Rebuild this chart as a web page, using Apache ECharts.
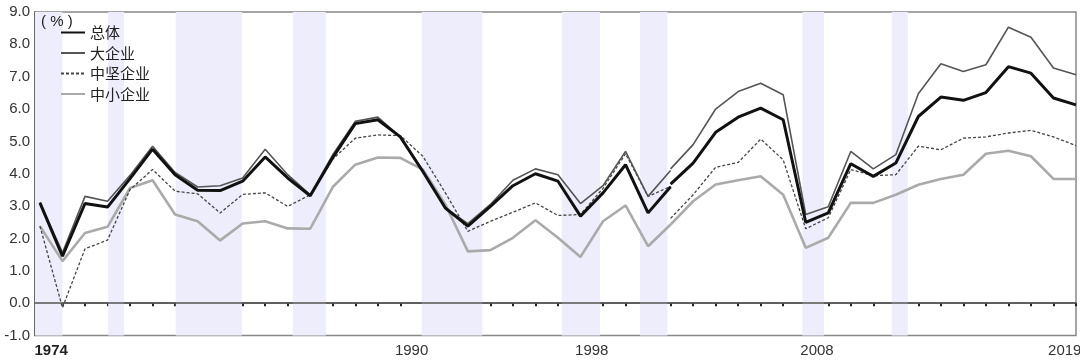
<!DOCTYPE html>
<html><head><meta charset="utf-8">
<script src="https://cdn.jsdelivr.net/npm/echarts@6/dist/echarts.min.js"></script>
<style>html,body{margin:0;padding:0;background:#fff}#c{width:1080px;height:361px}</style>
</head><body><div id="c"></div>
<script>
// Year boundaries where points are plotted (47 points; series break at 2002)
const tickYears = [1974,1975,1976,1977,1978,1979,1980,1981,1982,1983,1984,1985,1986,1987,1988,1989,1990,1991,1992,1993,1994,1995,1996,1997,1998,1999,2000,2001,2002,2003,2004,2005,2006,2007,2008,2009,2010,2011,2012,2013,2014,2015,2016,2017,2018,2019,2020];
const yearsOld = tickYears.slice(0, 29);   // 1974..2002
const yearsNew = tickYears.slice(28);      // 2002..2020
const tickLabels = ['1974','1990','1998','2008','2019'];

// 总体
const totalOld = [3.10,1.45,3.08,2.97,3.85,4.76,3.97,3.49,3.48,3.77,4.52,3.87,3.32,4.50,5.55,5.67,5.14,4.07,2.94,2.38,2.99,3.63,4.00,3.77,2.69,3.41,4.28,2.79,3.60];
const totalNew = [3.68,4.33,5.28,5.75,6.03,5.67,2.50,2.79,4.31,3.92,4.33,5.77,6.37,6.27,6.51,7.31,7.11,6.34,6.13];
// 大企业
const largeOld = [3.12,1.56,3.30,3.15,3.95,4.85,4.04,3.59,3.63,3.87,4.76,3.97,3.35,4.59,5.62,5.75,5.14,4.10,2.94,2.46,3.05,3.80,4.15,3.97,3.08,3.63,4.69,3.30,4.10];
const largeNew = [4.15,4.90,6.00,6.54,6.80,6.44,2.74,2.98,4.69,4.15,4.59,6.47,7.40,7.16,7.37,8.53,8.22,7.27,7.06];
// 中坚企业
const midOld = [2.38,-0.14,1.68,1.95,3.51,4.13,3.46,3.38,2.79,3.36,3.41,2.99,3.35,4.45,5.10,5.20,5.18,4.54,3.41,2.22,2.53,2.81,3.10,2.71,2.74,3.55,4.62,3.30,3.61];
const midNew = [2.62,3.35,4.20,4.35,5.07,4.43,2.30,2.64,4.13,3.94,3.97,4.85,4.74,5.10,5.14,5.26,5.34,5.14,4.87];
// 中小企业
const smallOld = [2.38,1.30,2.17,2.36,3.56,3.80,2.74,2.53,1.94,2.46,2.53,2.31,2.30,3.59,4.28,4.50,4.49,4.13,3.05,1.60,1.64,2.02,2.56,2.02,1.43,2.53,3.02,1.76,2.43];
const smallNew = [2.43,3.15,3.67,3.80,3.92,3.35,1.71,2.02,3.10,3.10,3.35,3.66,3.84,3.97,4.62,4.71,4.54,3.84,3.84];

// Shaded periods (in year units)
const bands = [[1973.78,1975.0],[1977.03,1977.73],[1980.03,1982.96],[1985.22,1986.69],[1990.95,1993.64],[1997.17,1998.87],[2000.64,2001.86],[2007.85,2008.81],[2011.82,2012.53]];

const FONT = '"Liberation Sans", Arial, "Noto Sans CJK SC", sans-serif';
const CJK = '"Noto Sans CJK SC", sans-serif';
const zip = (xs, ys) => xs.map((x, i) => [x, ys[i]]);

const styles = {
  '总体':   {color:'#111111', width:3, type:'solid'},
  '大企业': {color:'#555555', width:1.6, type:'solid'},
  '中坚企业': {color:'#444444', width:1.3, type:[3,2]},
  '中小企业': {color:'#aaaaaa', width:2.6, type:'solid'}
};
function mk(name, xs, ys, z) {
  const s = styles[name];
  return {name, type:'line', data: zip(xs, ys), symbol:'none', showSymbol:false,
    lineStyle:{color:s.color, width:s.width, type:s.type}, itemStyle:{color:s.color},
    z, animation:false, silent:true};
}

const chart = echarts.init(document.getElementById('c'), null, {renderer:'canvas'});
chart.setOption({
  animation:false,
  backgroundColor:'#fff',
  title:{text:'( % )', left:41, top:14, padding:0, textStyle:{fontSize:15, fontWeight:'normal', color:'#222', fontFamily:FONT}},
  legend:{orient:'vertical', left:60, top:25, padding:0, itemWidth:24, itemHeight:14, itemGap:5.5,
    itemStyle:{opacity:0},
    textStyle:{fontSize:15, color:'#222', fontFamily:CJK},
    data:['总体','大企业','中坚企业','中小企业']},
  grid:{left:35, right:4, top:12, bottom:25.5, show:true, borderColor:'#888', borderWidth:1.5, containLabel:false, outerBoundsMode:'none'},
  xAxis:{type:'value', min:1973.78, max:2020,
    axisLine:{show:true, lineStyle:{color:'#555', width:1.5}},
    axisTick:{show:true, customValues:tickYears, length:3, lineStyle:{color:'#222', width:2}},
    axisLabel:{customValues: tickLabels.map(s => Number(s) + 0.5), margin:8, fontSize:15, color:'#333', fontFamily:FONT,
      formatter: v => { const s = String(Math.round(v - 0.5)); return s === tickLabels[0] ? '{b|' + s + '}' : s; },
      rich:{b:{fontWeight:'bold', fontSize:15, color:'#222', fontFamily:FONT}}},
    splitLine:{show:false}},
  yAxis:{type:'value', min:-1, max:9, interval:1,
    axisLine:{show:true, lineStyle:{color:'#555', width:1.5}},
    axisTick:{show:false}, splitLine:{show:false},
    axisLabel:{formatter: v => v.toFixed(1), fontSize:15, color:'#333', margin:5, fontFamily:FONT}},
  series:[
    {name:'bands', type:'line', data:[], silent:true, z:1,
      markArea:{silent:true, itemStyle:{color:'#EDEDFB'}, data: bands.map(b => [{xAxis:b[0]}, {xAxis:b[1]}])},
      markLine:{silent:true, symbol:['none','none'], label:{show:false}, animation:false,
        lineStyle:{color:'#555', width:1.5, type:'solid'}, data:[{yAxis:0}]}},
    mk('中小企业', yearsOld, smallOld, 3), mk('中小企业', yearsNew, smallNew, 3),
    mk('中坚企业', yearsOld, midOld, 4), mk('中坚企业', yearsNew, midNew, 4),
    mk('大企业', yearsOld, largeOld, 5), mk('大企业', yearsNew, largeNew, 5),
    mk('总体', yearsOld, totalOld, 6), mk('总体', yearsNew, totalNew, 6)
  ]
});
</script></body></html>
